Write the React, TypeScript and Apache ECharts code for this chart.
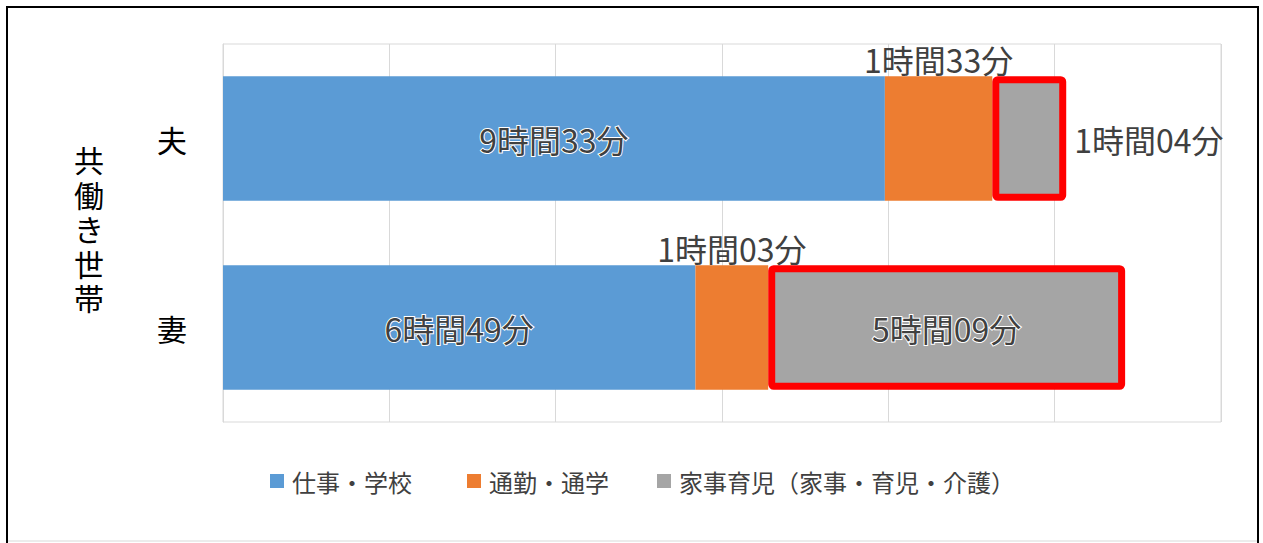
import React, { useEffect, useRef } from "react";
import * as echarts from "echarts";

const categories = ["夫", "妻"];
const seriesNames = ["仕事・学校", "通勤・通学", "家事育児（家事・育児・介護）"];
// minutes
const workMinutes = [573, 409];
const commuteMinutes = [93, 63];
const houseworkMinutes = [64, 309];
const axisMax = 864; // 0.6 day
const axisInterval = 144; // 0.1 day
const groupLabel = "共働き世帯";

const FONT = "'Noto Sans CJK JP', 'Noto Sans', sans-serif";

const fmt = (p: any) => {
  const v = typeof p.value === "number" ? p.value : Number(p.value);
  const h = Math.floor(v / 60);
  const m = v % 60;
  return `${h}時間${String(m).padStart(2, "0")}分`;
};

export default function App() {
  const ref = useRef<HTMLDivElement>(null);
  useEffect(() => {
    if (!ref.current) return;
    const chart = echarts.init(ref.current, null, { renderer: "svg" });
    const labelBase = {
      show: true,
      formatter: fmt,
      fontFamily: FONT,
      fontSize: 32,
      color: "#404040",
    };
    const legendBase = {
      orient: "horizontal",
      top: 464,
      icon: "rect",
      itemWidth: 14,
      itemHeight: 14,
      itemStyle: { borderWidth: 0 },
      textStyle: { fontFamily: FONT, fontSize: 24, color: "#404040", padding: [0, 0, 0, 3] },
      selectedMode: false,
    };
    const titleChars = groupLabel.split("").map((ch, i) => ({
      type: "text",
      x: 89,
      y: 159 + i * 34.5,
      style: {
        text: ch,
        fontFamily: FONT,
        fontSize: 30,
        lineHeight: 32,
        fontWeight: "normal",
        fill: "#000000",
        align: "center",
        verticalAlign: "middle",
      },
    }));
    chart.setOption({
      animation: false,
      backgroundColor: "#ffffff",
      color: ["#5B9BD5", "#ED7D31", "#A5A5A5"],
      grid: {
        left: 223,
        right: 42,
        top: 44,
        bottom: 121,
        show: true,
        borderColor: "#d9d9d9",
        borderWidth: 1,
      },
      xAxis: {
        type: "value",
        min: 0,
        max: axisMax,
        interval: axisInterval,
        axisLabel: { show: false },
        axisLine: { show: false },
        axisTick: { show: false },
        splitLine: { show: true, lineStyle: { color: "#d9d9d9", width: 1 } },
      },
      yAxis: {
        type: "category",
        data: categories,
        inverse: true,
        axisLine: { show: true, lineStyle: { color: "#d9d9d9" } },
        axisTick: { show: false },
        axisLabel: { fontFamily: FONT, fontSize: 30, color: "#000000", margin: 36 },
      },
      legend: [
        { ...legendBase, left: 265, data: [seriesNames[0]] },
        { ...legendBase, left: 462, data: [seriesNames[1]] },
        { ...legendBase, left: 652, data: [seriesNames[2]] },
      ],
      graphic: [
        ...titleChars,
        {
          type: "polyline",
          shape: { points: [[7, 547], [7, 7], [1258, 7], [1258, 547]] },
          style: { stroke: "#000000", lineWidth: 2, fill: "none" },
          silent: true,
        },
        {
          type: "line",
          shape: { x1: 8, y1: 541, x2: 1257, y2: 541 },
          style: { stroke: "#d9d9d9", lineWidth: 1 },
          silent: true,
        },
      ],
      series: [
        {
          name: seriesNames[0],
          type: "bar",
          stack: "total",
          barWidth: "66%",
          data: workMinutes,
          label: {
            ...labelBase,
            position: "inside",
            textBorderColor: "#ffffff",
            textBorderWidth: 2,
          },
        },
        {
          name: seriesNames[1],
          type: "bar",
          stack: "total",
          data: commuteMinutes,
          label: { ...labelBase, position: "top", distance: 1 },
        },
        {
          name: seriesNames[2],
          type: "bar",
          stack: "total",
          itemStyle: { borderColor: "#ff0000", borderWidth: 7, borderRadius: 2 },
          data: houseworkMinutes.map((v, i) => ({
            value: v,
            label:
              i === 0
                ? { position: "right", distance: 8 }
                : { position: "inside", textBorderColor: "#ffffff", textBorderWidth: 2 },
          })),
          label: { ...labelBase },
        },
      ],
    });
    return () => chart.dispose();
  }, []);
  return (
    <div
      ref={ref}
      style={{ position: "fixed", left: 0, top: 0, width: 1263, height: 543 }}
    />
  );
}
